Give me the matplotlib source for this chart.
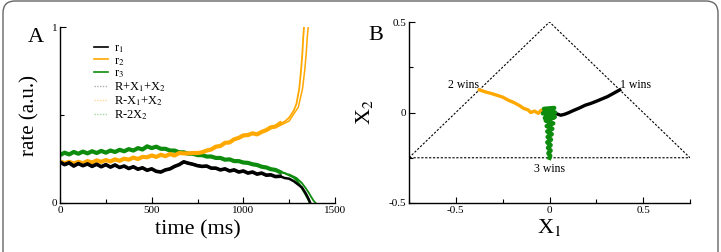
import matplotlib
matplotlib.use("Agg")
import matplotlib.pyplot as plt
import numpy as np
from matplotlib.lines import Line2D
from matplotlib.patches import FancyBboxPatch
from matplotlib.ticker import MultipleLocator, FuncFormatter

plt.rcParams['font.family'] = ['Liberation Serif', 'DejaVu Serif']
plt.rcParams['mathtext.fontset'] = 'stix'

# ---- panel A: rates vs time ----
t_base = np.arange(0, 1225, 25)
r1_base = [0.232, 0.218, 0.228, 0.210, 0.224, 0.212, 0.222, 0.208, 0.220, 0.206,
           0.218, 0.204, 0.216, 0.202, 0.210, 0.196, 0.206, 0.192, 0.200, 0.186,
           0.194, 0.180, 0.176, 0.188, 0.194, 0.208, 0.218, 0.234, 0.226, 0.220,
           0.212, 0.208, 0.210, 0.198, 0.198, 0.188, 0.194, 0.182, 0.188, 0.176,
           0.182, 0.170, 0.176, 0.164, 0.170, 0.158, 0.160, 0.150, 0.152]
r1_tail_t = [1225, 1250, 1275, 1300, 1320, 1340, 1355, 1365]
r1_tail = [0.142, 0.138, 0.124, 0.104, 0.088, 0.055, 0.025, 0.0]

r2_base = [0.236, 0.226, 0.234, 0.224, 0.234, 0.226, 0.238, 0.230, 0.242, 0.234,
           0.244, 0.236, 0.248, 0.240, 0.252, 0.246, 0.258, 0.250, 0.262, 0.260,
           0.270, 0.262, 0.274, 0.266, 0.278, 0.270, 0.284, 0.282, 0.282, 0.284,
           0.284, 0.288, 0.298, 0.304, 0.320, 0.324, 0.342, 0.344, 0.362, 0.370,
           0.384, 0.386, 0.396, 0.390, 0.404, 0.414, 0.430, 0.434, 0.452]
r2_tail_t = [1225, 1250, 1275, 1290, 1305, 1315, 1322, 1327, 1331]
r2_tail = [0.462, 0.485, 0.525, 0.565, 0.650, 0.756, 0.850, 0.945, 1.0]
rec2_tail_t = [1150, 1200, 1250, 1300, 1323, 1335, 1343, 1349, 1354]
rec2_tail = [0.426, 0.440, 0.466, 0.545, 0.650, 0.756, 0.850, 0.945, 1.0]

r3_base = [0.272, 0.286, 0.276, 0.290, 0.280, 0.292, 0.282, 0.294, 0.284, 0.296,
           0.286, 0.298, 0.290, 0.302, 0.294, 0.306, 0.298, 0.312, 0.304, 0.322,
           0.312, 0.320, 0.308, 0.308, 0.298, 0.298, 0.288, 0.288, 0.280, 0.280,
           0.272, 0.272, 0.264, 0.264, 0.256, 0.256, 0.246, 0.248, 0.238, 0.238,
           0.230, 0.228, 0.220, 0.216, 0.206, 0.202, 0.192, 0.188, 0.176]
r3_tail_t = [1225, 1250, 1275, 1290, 1310, 1325, 1340, 1352, 1364]
r3_tail = [0.170, 0.158, 0.145, 0.130, 0.100, 0.075, 0.048, 0.025, 0.0]
rec3_tail_t = [1250, 1290, 1318, 1340, 1356, 1370, 1382, 1394]
rec3_tail = [0.162, 0.142, 0.115, 0.085, 0.060, 0.035, 0.015, 0.0]

legend_labels = ['r$_1$', 'r$_2$', 'r$_3$',
                 'R+X$_1$+X$_2$', 'R-X$_1$+X$_2$', 'R-2X$_2$']

# ---- panel B: trajectories in the (X1, X2) plane ----
b_orange_x = [-0.02, -0.045, -0.06, -0.08, -0.10, -0.115, -0.137, -0.16, -0.19,
              -0.22, -0.25, -0.28, -0.31, -0.34, -0.36, -0.375]
b_orange_y = [0.005, 0.012, -0.005, 0.008, 0.0, 0.015, 0.022, 0.038, 0.055,
              0.068, 0.085, 0.095, 0.105, 0.113, 0.120, 0.125]
b_black_x = [0.02, 0.04, 0.06, 0.08, 0.10, 0.13, 0.16, 0.19, 0.22, 0.25, 0.28,
             0.31, 0.34, 0.375]
b_black_y = [0.0, -0.008, -0.015, -0.01, -0.002, 0.012, 0.025, 0.04, 0.05,
             0.062, 0.075, 0.088, 0.105, 0.125]
b_green_x = [0.0, -0.03, 0.025, -0.035, 0.03, -0.025, 0.028, -0.02, 0.02, -0.015,
             0.015, -0.012, 0.012, -0.01, 0.008, -0.012, 0.006, -0.008, 0.006,
             -0.006, 0.004, 0.0]
b_green_y = [0.0, 0.02, 0.025, -0.005, 0.0, -0.03, -0.025, -0.045, -0.06, -0.075,
             -0.09, -0.105, -0.12, -0.135, -0.15, -0.165, -0.18, -0.195, -0.21,
             -0.225, -0.24, -0.25]
tri_x = [-0.75, 0.0, 0.75, -0.75]
tri_y = [-0.25, 0.5, -0.25, -0.25]

c_black = 'black'
c_orange = '#ffa800'
c_green = '#0e8c0e'

fig = plt.figure(figsize=(7.21, 2.52), dpi=100)

frame = FancyBboxPatch((0.03, -0.2), 7.15, 2.71,
                       boxstyle='round,pad=0,rounding_size=0.12',
                       transform=fig.dpi_scale_trans, facecolor='none',
                       edgecolor='#666666', linewidth=1.0)
fig.patches.append(frame)

axA = fig.add_axes([60 / 721, 1 - 203 / 252, 275 / 721, 176 / 252])
axB = fig.add_axes([409 / 721, 1 - 203 / 252, 281 / 721, 181 / 252])

t3 = np.concatenate([t_base, r3_tail_t])
v3 = np.concatenate([r3_base, r3_tail])
t2 = np.concatenate([t_base, r2_tail_t])
v2 = np.concatenate([r2_base, r2_tail])
t1 = np.concatenate([t_base, r1_tail_t])
v1 = np.concatenate([r1_base, r1_tail])

# reconstructions (second copies that split off near the end)
axA.plot(rec3_tail_t, rec3_tail, color=c_green, lw=1.3)
axA.plot(rec2_tail_t, rec2_tail, color=c_orange, lw=1.1)
# thick noisy band part, then thin tails
axA.plot(t3, v3, color=c_green, lw=1.6)
axA.plot(t_base, r3_base, color=c_green, lw=3.0)
axA.plot(t2, v2, color=c_orange, lw=1.3)
axA.plot(t_base, r2_base, color=c_orange, lw=3.0)
axA.plot(t1, v1, color=c_black, lw=1.8)
axA.plot(t_base, r1_base, color=c_black, lw=2.6)

handles = [Line2D([], [], color=c_black, lw=1.2),
           Line2D([], [], color=c_orange, lw=1.2),
           Line2D([], [], color=c_green, lw=1.2),
           Line2D([], [], color='#b0b0b0', lw=1.0, ls=(0, (1, 1))),
           Line2D([], [], color='#ffd9a0', lw=1.0, ls=(0, (1, 1))),
           Line2D([], [], color='#a8d8a8', lw=1.0, ls=(0, (1, 1)))]
axA.legend(handles, legend_labels, loc='upper left', frameon=False,
           bbox_to_anchor=(94 / 721, 1 - 42 / 252), bbox_transform=fig.transFigure,
           fontsize=9, handlelength=1.1, handletextpad=0.5, labelspacing=0.0,
           borderpad=0, borderaxespad=0)

axA.set_xlim(0, 1500)
axA.set_ylim(0, 1)
axA.xaxis.set_major_locator(MultipleLocator(500))
axA.xaxis.set_minor_locator(MultipleLocator(250))
axA.yaxis.set_major_locator(MultipleLocator(1))
axA.yaxis.set_minor_locator(MultipleLocator(0.5))
axA.set_xlabel('time (ms)', fontsize=16)
axA.set_ylabel('rate (a.u.)', fontsize=15)
axA.xaxis.set_label_coords(0.5, -0.1)
axA.yaxis.set_label_coords(-0.075, 0.5)
fig.text(28 / 721, 1 - 37 / 252, 'A', fontsize=16, va='center')

# panel B
axB.plot(tri_x, tri_y, color='black', lw=0.8, ls=(0, (2, 1.5)))
axB.plot(b_orange_x, b_orange_y, color=c_orange, lw=2.4)
axB.plot(b_black_x, b_black_y, color=c_black, lw=2.4)
axB.plot(b_green_x, b_green_y, color=c_green, lw=3.2)
axB.text(-0.375, 0.135, '2 wins', fontsize=8.5, ha='right', va='baseline')
axB.text(0.375, 0.135, '1 wins', fontsize=8.5, ha='left', va='baseline')
axB.text(0.0, -0.31, '3 wins', fontsize=8.5, ha='center', va='center')
axB.set_xlim(-0.75, 0.75)
axB.set_ylim(-0.5, 0.5)
axB.xaxis.set_major_locator(MultipleLocator(0.5))
axB.xaxis.set_minor_locator(MultipleLocator(0.25))
axB.yaxis.set_major_locator(MultipleLocator(0.5))
axB.yaxis.set_minor_locator(MultipleLocator(0.25))
fmt = FuncFormatter(lambda v, p: '0' if abs(v) < 1e-9 else f'{v:g}')
axB.xaxis.set_major_formatter(fmt)
axB.yaxis.set_major_formatter(fmt)
axB.set_xlabel('X$_1$', fontsize=16)
axB.set_ylabel('X$_2$', fontsize=16)
axB.xaxis.set_label_coords(0.5, -0.08)
axB.yaxis.set_label_coords(-0.12, 0.5)
fig.text(368 / 721, 1 - 35 / 252, 'B', fontsize=16, va='center')

for ax in (axA, axB):
    for s in ('top', 'right'):
        ax.spines[s].set_visible(False)
    for s in ('left', 'bottom'):
        ax.spines[s].set_linewidth(1.0)
    ax.tick_params(which='both', direction='in', labelsize=8, pad=2, width=0.8)
    ax.tick_params(which='major', length=4)
    ax.tick_params(which='minor', length=3)

fig.savefig('out.png', dpi=100)
